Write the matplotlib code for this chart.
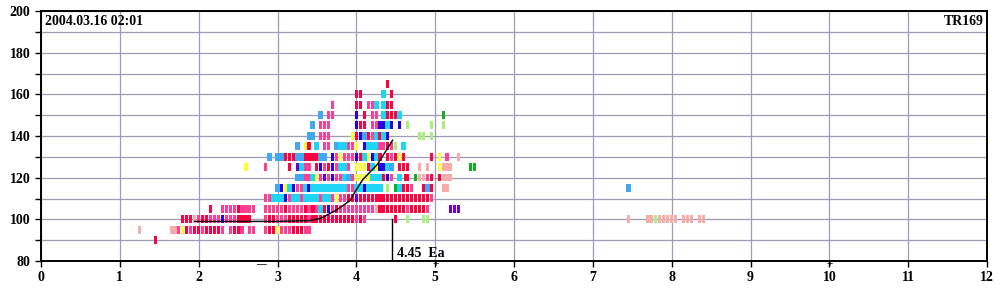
import matplotlib
matplotlib.use('Agg')
from matplotlib import pyplot as plt
import matplotlib.transforms as mtransforms

plt.rcParams['font.family'] = ['Liberation Serif', 'DejaVu Serif']
plt.rcParams['font.weight'] = 'bold'

# colour codes used by the marks
palette = {
    'R': '#ff0040', 'P': '#ff3f94', 'C': '#1fd5f5', 'B': '#3fa9f5',
    'N': '#2a00e0', 'V': '#7000d0', 'Y': '#ffff30', 'S': '#f6aca8',
    'G': '#a8f07a', 'D': '#10b020',
}

# one row per level: x positions and colour codes
row_90_x = [1.45]
row_90_c = 'R'
row_95_x = [1.25, 1.65, 1.70, 1.75, 1.80, 1.85, 1.90, 1.95, 2.00, 2.05, 2.10, 2.15, 2.20, 2.25,
            2.30, 2.40, 2.45, 2.50, 2.55, 2.65, 2.70, 2.85, 2.90, 2.95, 3.00, 3.05, 3.10, 3.15,
            3.20, 3.25, 3.30, 3.35, 3.40]
row_95_c = 'SSSPYRPRRPRRRRPPRRPPPPRRYPPPRRRPP'
row_100_x = [1.80, 1.85, 1.90, 1.95, 2.00, 2.05, 2.10, 2.15, 2.20, 2.25, 2.30, 2.35, 2.40, 2.45,
             2.50, 2.55, 2.60, 2.65, 2.85, 2.90, 2.95, 3.00, 3.05, 3.10, 3.15, 3.20, 3.25, 3.30,
             3.35, 3.40, 3.45, 3.50, 3.55, 3.60, 3.65, 3.70, 3.75, 3.80, 3.85, 3.90, 3.95, 4.00,
             4.05, 4.10, 4.50, 4.65, 4.85, 4.90,
             7.45, 7.70, 7.75, 7.80, 7.85, 7.90, 7.95, 8.00, 8.05, 8.15, 8.20, 8.25, 8.35, 8.40]
row_100_c = 'RRRSPRRPPPNPPPRRRRPRRPPPRRRRRPRRRRRRRRRRRPRPRGGG' + 'SSSGSSSSSSSSSS'
row_105_x = [2.15, 2.30, 2.35, 2.40, 2.45, 2.50, 2.55, 2.60, 2.65, 2.70, 2.85, 2.90, 2.95, 3.00,
             3.05, 3.10, 3.15, 3.20, 3.25, 3.30, 3.35, 3.40, 3.45, 3.50, 3.55, 3.60, 3.65, 3.70,
             3.75, 3.80, 3.85, 3.90, 3.95, 4.00, 4.05, 4.10, 4.15, 4.20, 4.25, 4.30, 4.35, 4.40,
             4.45, 4.50, 4.55, 4.60, 4.65, 4.70, 4.75, 4.80, 4.85, 4.90, 5.20, 5.25, 5.30]
row_105_c = 'RPPPPRPPPPPPPPPRPPPPRPRPCRNPRPPPPPPPPPSRRRRRRRPRRRRPVVV'
row_110_x = [2.85, 2.90, 2.95, 3.00, 3.05, 3.10, 3.15, 3.20, 3.25, 3.30, 3.35, 3.40, 3.45, 3.50,
             3.55, 3.60, 3.65, 3.70, 3.75, 3.80, 3.85, 3.90, 3.95, 4.00, 4.05, 4.10, 4.15, 4.20,
             4.25, 4.30, 4.35, 4.40, 4.45, 4.50, 4.55, 4.60, 4.65, 4.70, 4.75, 4.80, 4.85, 4.90,
             4.95]
row_110_c = 'PPCCCNPCCPCCCCPCCPYPPRRVRRRRRRRRRRRRRRRRRRP'
row_115_x = [3.00, 3.05, 3.10, 3.15, 3.20, 3.25, 3.30, 3.35, 3.40, 3.45, 3.50, 3.55, 3.60, 3.65,
             3.70, 3.75, 3.80, 3.85, 3.90, 3.95, 4.00, 4.05, 4.10, 4.15, 4.20, 4.25, 4.30, 4.40,
             4.50, 4.55, 4.60, 4.65, 4.70, 4.85, 4.90, 4.95, 5.10, 5.15, 7.45]
row_115_c = 'BNYCNPPCNCCCCCCCCCPPCCNCCCCGDCRRPRBRSSB'
row_120_x = [3.25, 3.30, 3.35, 3.40, 3.45, 3.50, 3.55, 3.60, 3.65, 3.70, 3.75, 3.80, 3.85, 3.90,
             3.95, 4.00, 4.05, 4.10, 4.15, 4.20, 4.25, 4.30, 4.35, 4.40, 4.45, 4.55, 4.62, 4.65,
             4.75, 4.80, 4.85, 4.90, 4.95, 5.05, 5.10, 5.15, 5.20]
row_120_c = 'BBPPCYPVPNPPCBPYYYYCCCRNPCRRDSSPRRSSS'
row_125_x = [2.60, 2.85, 3.15, 3.25, 3.30, 3.35, 3.40, 3.50, 3.55, 3.60, 3.65, 3.70, 3.75, 3.80,
             3.85, 3.90, 4.00, 4.05, 4.10, 4.15, 4.20, 4.25, 4.30, 4.35, 4.40, 4.45, 4.55, 4.60,
             4.65, 4.80, 4.90, 5.05, 5.10, 5.15, 5.20, 5.45, 5.50]
row_125_c = 'YPRVCPPRNPRNPCCPYYYRCYNNCBRRRSSYSSSDD'
row_130_x = [2.90, 3.00, 3.05, 3.10, 3.15, 3.20, 3.25, 3.30, 3.35, 3.40, 3.45, 3.50, 3.55, 3.60,
             3.70, 3.75, 3.80, 3.85, 3.90, 3.95, 4.00, 4.05, 4.10, 4.15, 4.20, 4.25, 4.30, 4.40,
             4.45, 4.50, 4.55, 4.60, 4.95, 5.05, 5.15, 5.30]
row_130_c = 'BBBRRRBBRRRRBBNPYPPPNRCYNCRRPRYRRYPS'
row_135_x = [3.25, 3.35, 3.40, 3.50, 3.60, 3.65, 3.75, 3.80, 3.85, 3.90, 3.95, 4.00, 4.10, 4.15,
             4.20, 4.25, 4.30, 4.35, 4.40, 4.45, 4.50, 4.60]
row_135_c = 'BYRCPPBCCPPYNCCCPPRPGC'
row_140_x = [3.40, 3.45, 3.55, 3.60, 3.65, 3.95, 4.00, 4.05, 4.10, 4.15, 4.20, 4.25, 4.30, 4.35,
             4.40, 4.80, 4.85, 4.95]
row_140_c = 'BBPPPYRNBRPCRCNGGG'
row_145_x = [3.45, 3.55, 3.60, 3.65, 4.00, 4.05, 4.10, 4.20, 4.25, 4.30, 4.35, 4.40, 4.45, 4.55,
             4.65, 4.95, 5.10]
row_145_c = 'BPPPNRRPPNNCNNGGG'
row_150_x = [3.55, 3.65, 3.70, 4.00, 4.10, 4.20, 4.25, 4.35, 4.40, 4.45, 4.50, 4.55, 5.10]
row_150_c = 'BPPNRPPCRRRCD'
row_155_x = [3.70, 4.00, 4.05, 4.15, 4.20, 4.25, 4.35, 4.40, 4.45]
row_155_c = 'PRRPPCCRR'
row_160_x = [4.00, 4.05, 4.35, 4.45]
row_160_c = 'RRCR'
row_165_x = [4.40]
row_165_c = 'R'

rows = [(90, row_90_x, row_90_c), (95, row_95_x, row_95_c), (100, row_100_x, row_100_c),
        (105, row_105_x, row_105_c), (110, row_110_x, row_110_c), (115, row_115_x, row_115_c),
        (120, row_120_x, row_120_c), (125, row_125_x, row_125_c), (130, row_130_x, row_130_c),
        (135, row_135_x, row_135_c), (140, row_140_x, row_140_c), (145, row_145_x, row_145_c),
        (150, row_150_x, row_150_c), (155, row_155_x, row_155_c), (160, row_160_x, row_160_c),
        (165, row_165_x, row_165_c)]

# black curve
curve_x = [1.95, 2.50, 3.00, 3.40, 3.55, 3.75, 3.92, 3.98, 4.08, 4.27, 4.46]
curve_y = [99.0, 99.0, 99.0, 99.4, 100.5, 104.5, 109.0, 113.0, 119.0, 126.5, 138.0]

ea_value = 4.45
ea_top = 100.0
minus_x = 2.79
plus_x = [5, 10]

fig = plt.figure(figsize=(10, 3), dpi=100)
ax = fig.add_axes([0.041, 0.13, 0.946, 0.833])

for level, xs, codes in rows:
    for x, code in zip(xs, codes):
        w = 0.064 if code in 'CB' else 0.039
        ax.bar(x, 3.8, width=w, bottom=level - 1.8, color=palette[code], linewidth=0,
               antialiased=True, zorder=3)

ax.plot(curve_x, curve_y, color='#111111', linewidth=1.1, zorder=4)
ax.plot([ea_value, ea_value], [80, ea_top], color='black', linewidth=1.0, zorder=4)
ax.text(ea_value + 0.07, 80.6, '4.45  Ea', fontsize=10, fontweight='bold', va='bottom', ha='left', zorder=5)

ax.set_xlim(0, 12)
ax.set_ylim(80, 200)
ax.set_xticks(range(0, 13))
ax.set_yticks(range(80, 201, 20))
ax.set_yticks(range(90, 200, 20), minor=True)
ax.grid(True, which='both', color='#9c9cb4', linewidth=0.9, zorder=0)
ax.set_axisbelow(True)
ax.tick_params(axis='both', which='both', direction='out', length=4, width=1, labelsize=10, colors='black')
for lab in ax.get_xticklabels() + ax.get_yticklabels():
    lab.set_fontweight('bold')
for sp in ax.spines.values():
    sp.set_linewidth(1.4)
    sp.set_color('black')

trans = mtransforms.blended_transform_factory(ax.transData, ax.transAxes)
for px in plus_x:
    ax.text(px, -0.015, '+', transform=trans, ha='center', va='center', fontsize=8, clip_on=False)
ax.text(minus_x, -0.015, '—', transform=trans, ha='center', va='center', fontsize=7, clip_on=False)

ax.text(0.004, 0.985, '2004.03.16 02:01', transform=ax.transAxes, ha='left', va='top',
        fontsize=10, fontweight='bold')
ax.text(0.997, 0.985, 'TR169', transform=ax.transAxes, ha='right', va='top',
        fontsize=10, fontweight='bold')

fig.savefig('out.png', dpi=100)
